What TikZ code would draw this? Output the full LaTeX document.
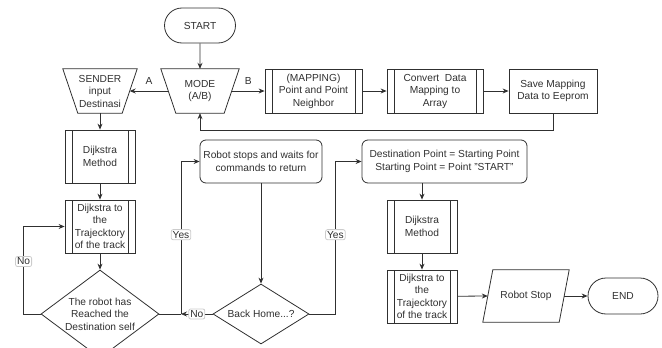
\documentclass[tikz,border=0pt]{standalone}
\usepackage{fontspec}
\setmainfont{Liberation Sans}
\usetikzlibrary{shapes.geometric,shapes.misc,arrows.meta,calc}
\definecolor{ink}{HTML}{303030}

\begin{document}
\begin{tikzpicture}[x=1pt,y=-1pt,
  every node/.style={font=\fontsize{10.2}{12.5}\selectfont, text=ink, align=center},
  line/.style={draw=ink, line width=0.8pt},
  arr/.style={line, -{Stealth[length=6pt,width=5pt]}},
  term/.style={line, rounded rectangle, inner sep=0pt},
  box/.style={line, rectangle, inner sep=1pt},
  rbox/.style={line, rectangle, rounded corners=6pt, inner sep=1pt},
  subproc/.style={box, path picture={
      \draw[ink, line width=0.8pt]
        ([xshift=7pt]path picture bounding box.north west) -- ([xshift=7pt]path picture bounding box.south west)
        ([xshift=-7pt]path picture bounding box.north east) -- ([xshift=-7pt]path picture bounding box.south east);}},
  plain/.style={rectangle, inner sep=0pt},
  decision/.style={line, diamond, inner sep=0pt},
  tag/.style={fill=white, draw=gray!40, rounded corners=2pt, inner sep=1.5pt},
]
\useasboundingbox (0,0) rectangle (662,348);

% top row
\node[term, minimum width=71pt, minimum height=35pt] (start) at (200,25.5) {START};
\node[plain, minimum width=78pt, minimum height=44pt] (mode) at (200,91) {MODE\\(A/B)};
\node[plain, minimum width=74pt, minimum height=44pt] (sender) at (100,91) {SENDER\\input\\Destinasi};
\node[subproc, minimum width=97pt, minimum height=44pt] (mapping) at (313.5,91) {(MAPPING)\\Point and Point\\Neighbor};
\node[subproc, minimum width=96pt, minimum height=44pt] (convert) at (435,91) {Convert~~Data\\Mapping to\\Array};
\node[box, minimum width=88pt, minimum height=44pt] (save) at (553,91) {Save Mapping\\Data to Eeprom};

% manual-operation outlines (wide top, narrow bottom)
\foreach \n in {mode,sender}
  \draw[line] (\n.north west) -- (\n.north east) -- ([xshift=-15pt]\n.south east)
    -- ([xshift=15pt]\n.south west) -- cycle;

% left column
\node[subproc, minimum width=70pt, minimum height=53pt] (dm1) at (100,156.5) {Dijkstra\\Method};
\node[subproc, minimum width=70pt, minimum height=53pt] (tr1) at (100,226.5) {Dijkstra to\\the\\Trajecktory\\of the track};
\node[decision, minimum width=118pt, minimum height=88pt,
      label={center:The robot has\\Reached the\\Destination self}] (reached) at (100,314) {};

% middle column
\node[rbox, minimum width=122pt, minimum height=43pt] (stops) at (261,161.5) {Robot stops and waits for\\commands to return};
\node[decision, minimum width=96pt, minimum height=60pt, label={center:Back Home...?}] (home) at (261,314) {};
\coordinate (join) at (181,314);

% right column
\node[rbox, minimum width=165pt, minimum height=43pt] (dest) at (444.5,161.5) {Destination Point = Starting Point\\Starting Point = Point "START"};
\node[subproc, minimum width=70pt, minimum height=53pt] (dm2) at (422,226.5) {Dijkstra\\Method};
\node[subproc, minimum width=70pt, minimum height=53pt] (tr2) at (422,296.5) {Dijkstra to\\the\\Trajecktory\\of the track};
\node[plain, minimum width=86pt, minimum height=52pt] (rstop) at (526,296) {Robot Stop};
\draw[line] ([xshift=10pt]rstop.north west) -- (rstop.north east)
  -- ([xshift=-10pt]rstop.south east) -- (rstop.south west) -- cycle;
\node[term, minimum width=70pt, minimum height=36pt] (end) at (623,296) {END};

% connectors
\draw[arr] (start) -- (mode.north);
\draw[arr] ([xshift=7.5pt]mode.west) -- ([xshift=-7.5pt]sender.east) node[midway, above=3pt] {A};
\draw[arr] ([xshift=-7.5pt]mode.east) -- (mapping.west) node[midway, above=3pt] {B};
\draw[arr] (mapping) -- (convert);
\draw[arr] (convert) -- (save);
\draw[arr] (save.south) -- ++(0,17) -| (mode.south);

\draw[arr] (sender.south) -- (dm1.north);
\draw[arr] (dm1) -- (tr1);
\draw[arr] (tr1) -- (reached.north);
\draw[arr] (reached.west) -- ++(-17,0) |- (tr1.west) node[pos=0.3, tag] {No};

\draw[line] (reached.east) -- (join);
\draw[arr] (join) |- (stops.west) node[pos=0.26, tag] {Yes};
\draw[arr] (home.west) -- (join) node[midway, tag] {No};
\draw[arr] (stops) -- (home.north);
\draw[arr] (home.east) -- ++(26,0) |- (dest.west) node[pos=0.26, tag] {Yes};

\draw[arr] (dm2.north |- dest.south) -- (dm2.north);
\draw[arr] (dm2) -- (tr2);
\draw[arr] (tr2) -- ([xshift=5pt]rstop.west);
\draw[arr] ([xshift=-5pt]rstop.east) -- (end);
\end{tikzpicture}
\end{document}
